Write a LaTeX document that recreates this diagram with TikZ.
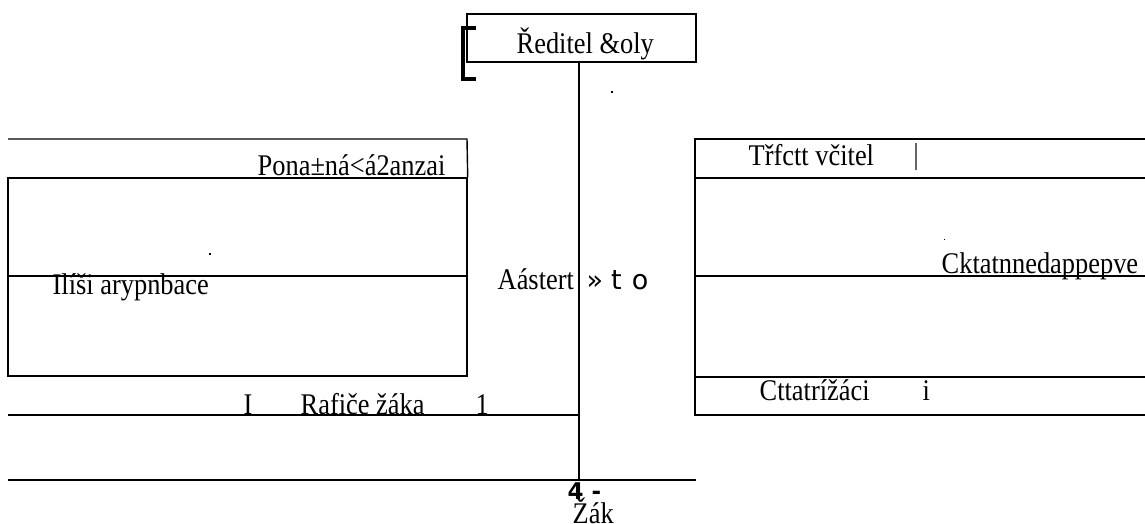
\documentclass[tikz,border=0pt]{standalone}
\usepackage{graphicx}
\usepackage{fontspec}
\setmainfont{Liberation Serif}
\newfontfamily\sansf{DejaVu Sans}
\newcommand{\sqz}[1]{\scalebox{0.88}[1]{#1}}
\begin{document}
\begin{tikzpicture}[x=1pt,y=-1pt, line width=1.4pt,
  lbl/.style={font=\fontsize{30}{32}\selectfont, inner sep=0pt, anchor=base west},
  sns/.style={font=\sansf\fontsize{27}{29}\selectfont, inner sep=0pt, anchor=base west},
  frame/.style={draw, line width=1.4pt}]
\useasboundingbox (0,0) rectangle (1145,524);
% top box
\node[frame, minimum width=229pt, minimum height=48pt, inner sep=0pt] (dir) at (581.5,38) {};
\node[lbl] (dirt) at (516,54) {\sqz{Ředitel \&oly}};
\draw[line width=4.5pt] (476,28) -- (463,28) -- (463,79) -- (476,79);
\fill (611,91) rectangle (613,93);
% vertical spine
\coordinate (bot) at (579,480);
\draw (dir.south -| bot) -- (bot);
% left group
\node[frame, minimum width=459pt, minimum height=198pt, inner sep=0pt] (lbox) at (237.5,277) {};
\coordinate (lt1) at (8,139);
\coordinate (lt2) at (467,139);
\draw (lt1) -- (lt2) -- (lbox.north east);
\draw (8,276) -- (467,276);
\node[lbl] (lt) at (257,175) {\sqz{Pona±ná<á2anzai}};
\fill (209,253) rectangle (211,255);
\node[lbl] (lm) at (52,294) {\sqz{Ilíši arypnbace}};
\node[lbl] (li) at (243,414) {\sqz{I}};
\node[lbl] (lr) at (300,414) {\sqz{Rafiče žáka}};
\node[lbl] (l1) at (475,414) {\sqz{1}};
\coordinate (r1) at (8,415);
\draw (r1) -- (r1 -| bot);
\coordinate (r2) at (8,480);
\draw (r2) -- (696,480);
% center labels
\node[lbl] (ca) at (497,289) {\sqz{Aástert}};
\node[sns] (cb) at (586,289) {»\hspace{8pt}t\hspace{10pt}o};
\node[font=\sansf\bfseries\fontsize{23}{25}\selectfont, inner sep=0pt, anchor=base west] (c4) at (567,499) {4 -};
\node[lbl] (cz) at (572,523) {\sqz{Žák}};
% right group
\draw (1145,139) -- (695,139) -- (695,415) -- (1145,415);
\draw (695,178) -- (1145,178);
\draw (695,276) -- (1145,276);
\draw (695,377) -- (1145,377);
\node[lbl] (rt) at (748,165) {\sqz{Třfctt včitel}};
\draw[gray!80!black, line width=1.2pt] (916,143) -- (916,170);
\node[lbl] (rm) at (941,273) {\sqz{Cktatnnedappepve}};
\fill (943.5,238.5) rectangle (944.5,239.5);
\node[lbl] (rb) at (759,400) {\sqz{Cttatrížáci}};
\node[lbl] (ri) at (922,400) {\sqz{i}};
\end{tikzpicture}
\end{document}
